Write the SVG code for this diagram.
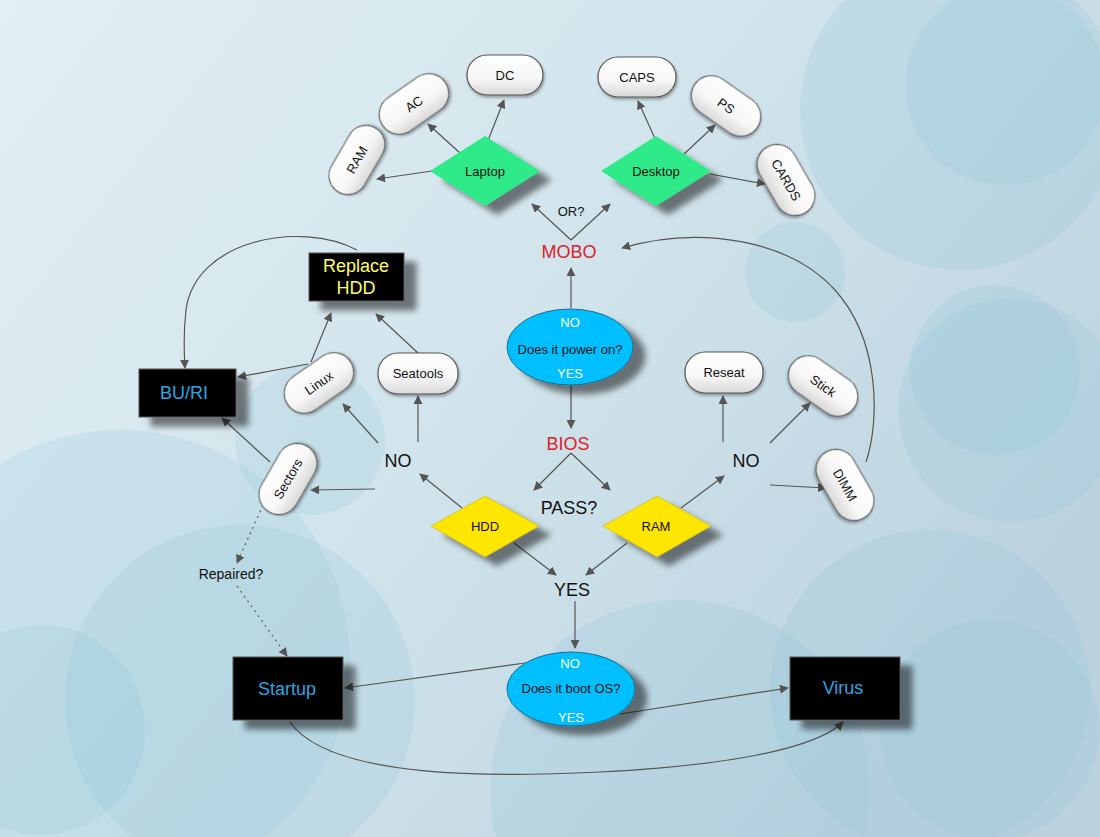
<svg xmlns="http://www.w3.org/2000/svg" width="1100" height="837" viewBox="0 0 1100 837">
<defs>
<linearGradient id="bg" x1="0" y1="0" x2="1" y2="0.6">
<stop offset="0" stop-color="#e2eff5"/>
<stop offset="0.5" stop-color="#d2e5ec"/>
<stop offset="1" stop-color="#bcd3df"/>
</linearGradient>
<linearGradient id="pill" x1="0" y1="0" x2="0" y2="1">
<stop offset="0" stop-color="#ffffff"/>
<stop offset="0.6" stop-color="#f6f6f6"/>
<stop offset="1" stop-color="#d8d8d8"/>
</linearGradient>
<filter id="sh" x="-30%" y="-30%" width="170%" height="170%">
<feGaussianBlur in="SourceAlpha" stdDeviation="3"/>
<feOffset dx="12" dy="9" result="b"/>
<feComponentTransfer><feFuncA type="linear" slope="0.5"/></feComponentTransfer>
<feMerge><feMergeNode/><feMergeNode in="SourceGraphic"/></feMerge>
</filter>
<filter id="psh" x="-30%" y="-30%" width="160%" height="160%">
<feGaussianBlur in="SourceAlpha" stdDeviation="1.5"/>
<feOffset dx="1" dy="2"/>
<feComponentTransfer><feFuncA type="linear" slope="0.35"/></feComponentTransfer>
<feMerge><feMergeNode/><feMergeNode in="SourceGraphic"/></feMerge>
</filter>
<marker id="ar" viewBox="0 0 10 10" refX="9" refY="5" markerWidth="9" markerHeight="9" markerUnits="userSpaceOnUse" orient="auto">
<path d="M0,0 L10,5 L0,10 z" fill="#555"/>
</marker>
<style>
.t{font-family:"Liberation Sans",Arial,sans-serif;text-anchor:middle;dominant-baseline:central}
.s{font-size:13px;fill:#111}
.big{font-size:18px;fill:#111}
.red{font-size:18px;fill:#e0202a}
.blu{font-size:18px;fill:#2ea6e0}
.yel{font-size:18px;fill:#ffff66}
.wh{font-size:13px;fill:#ffffff}
.pill{fill:url(#pill);stroke:#555;stroke-width:1.2;filter:url(#psh)}
.dg{fill:#2eea88;filter:url(#sh)}
.dy{fill:#ffe600;stroke:#b8a800;stroke-width:0.5;filter:url(#sh)}
.bx{fill:#000;stroke:#555;stroke-width:1;filter:url(#sh)}
.el{fill:#00bfff;stroke:#1a6b8c;stroke-width:1;filter:url(#sh)}
.c{fill:none;stroke:#555;stroke-width:1.2;marker-end:url(#ar)}
.d{fill:none;stroke:#666;stroke-width:1.3;stroke-dasharray:2 4;marker-end:url(#ar)}
.bc{fill:#8cc3d8;fill-opacity:0.2}
</style>
</defs>
<rect width="1100" height="837" fill="url(#bg)"/>
<g id="background">
<circle class="bc" cx="960" cy="110" r="160"/>
<circle class="bc" cx="1005" cy="85" r="100"/>
<circle class="bc" cx="795" cy="272" r="50"/>
<circle class="bc" cx="1010" cy="410" r="112"/>
<circle class="bc" cx="995" cy="370" r="85"/>
<circle class="bc" cx="120" cy="660" r="230"/>
<circle class="bc" cx="240" cy="700" r="175"/>
<circle class="bc" cx="40" cy="730" r="105"/>
<circle class="bc" cx="310" cy="440" r="75"/>
<circle class="bc" cx="680" cy="790" r="190"/>
<circle class="bc" cx="930" cy="690" r="160"/>
<circle class="bc" cx="990" cy="730" r="110"/>
</g>
<g id="connectors">
<line class="c" x1="432" y1="171" x2="377" y2="179"/>
<line class="c" x1="460" y1="153" x2="428" y2="124"/>
<line class="c" x1="487" y1="143" x2="504" y2="100"/>
<line class="c" x1="657" y1="143" x2="638" y2="101"/>
<line class="c" x1="682" y1="156" x2="715" y2="125"/>
<line class="c" x1="710" y1="174" x2="765" y2="184"/>
<line class="c" x1="571" y1="240" x2="532" y2="204"/>
<line class="c" x1="571" y1="240" x2="610" y2="204"/>
<line class="c" x1="571" y1="308" x2="571" y2="268"/>
<line class="c" x1="571" y1="384" x2="571" y2="428"/>
<line class="c" x1="571" y1="453" x2="534" y2="490"/>
<line class="c" x1="571" y1="453" x2="610" y2="490"/>
<line class="c" x1="462" y1="508" x2="420" y2="474"/>
<line class="c" x1="514" y1="543" x2="556" y2="575"/>
<line class="c" x1="627" y1="543" x2="586" y2="575"/>
<line class="c" x1="681" y1="508" x2="724" y2="476"/>
<line class="c" x1="575" y1="601" x2="575" y2="648"/>
<line class="c" x1="525" y1="663" x2="345" y2="688"/>
<line class="c" x1="620" y1="714" x2="788" y2="688"/>
<path class="c" d="M290,722 C330,780 500,777 600,772 C720,766 815,750 843,722"/>
<line class="c" x1="418" y1="442" x2="418" y2="396"/>
<line class="c" x1="378" y1="443" x2="343" y2="404"/>
<line class="c" x1="375" y1="489" x2="311" y2="490"/>
<line class="c" x1="270" y1="462" x2="222" y2="418"/>
<line class="c" x1="308" y1="364" x2="238" y2="377"/>
<line class="c" x1="311" y1="362" x2="331" y2="313"/>
<line class="c" x1="418" y1="353" x2="376" y2="314"/>
<path class="c" d="M357,250 C300,220 195,240 186,310 C183,335 184,352 185,368"/>
<line class="d" x1="263" y1="505" x2="237" y2="563"/>
<line class="d" x1="237" y1="586" x2="287" y2="656"/>
<line class="c" x1="723" y1="442" x2="723" y2="396"/>
<line class="c" x1="770" y1="443" x2="810" y2="403"/>
<line class="c" x1="770" y1="485" x2="826" y2="488"/>
<path class="c" d="M866,462 C880,420 880,340 835,290 C790,240 700,225 622,248"/>
</g>
<g id="laptop"><polygon class="dg" points="485,136 540,171 485,206 430,171"/><text class="t s" x="485" y="171">Laptop</text></g>
<g id="desktop"><polygon class="dg" points="656,136 711,171 656,206 601,171"/><text class="t s" x="656" y="171">Desktop</text></g>
<g id="ram-top" transform="translate(357,160) rotate(-60)"><rect class="pill" x="-37" y="-19" width="74" height="38" rx="19"/><text class="t s" x="0" y="0">RAM</text></g>
<g id="ac" transform="translate(414,104) rotate(-35)"><rect class="pill" x="-38" y="-20" width="76" height="40" rx="20"/><text class="t s" x="0" y="0">AC</text></g>
<g id="dc" transform="translate(505,75)"><rect class="pill" x="-38" y="-20" width="76" height="40" rx="20"/><text class="t s" x="0" y="0">DC</text></g>
<g id="caps" transform="translate(637,77)"><rect class="pill" x="-39" y="-20" width="78" height="40" rx="20"/><text class="t s" x="0" y="0">CAPS</text></g>
<g id="ps" transform="translate(726,106) rotate(35)"><rect class="pill" x="-38" y="-20" width="76" height="40" rx="20"/><text class="t s" x="0" y="0">PS</text></g>
<g id="cards" transform="translate(786,180) rotate(60)"><rect class="pill" x="-38" y="-20" width="76" height="40" rx="20"/><text class="t s" x="0" y="0">CARDS</text></g>
<g id="or"><text class="t s" x="571" y="211">OR?</text></g>
<g id="mobo"><text class="t red" x="569" y="252">MOBO</text></g>
<g id="power"><ellipse class="el" cx="570" cy="347" rx="63" ry="38"/><text class="t wh" x="570" y="322">NO</text><text class="t s" x="570" y="349">Does it power on?</text><text class="t wh" x="570" y="373">YES</text></g>
<g id="bios"><text class="t red" x="568" y="444">BIOS</text></g>
<g id="pass"><text class="t big" x="569" y="508">PASS?</text></g>
<g id="hdd"><polygon class="dy" points="485,496 539,526 485,557 431,526"/><text class="t s" x="485" y="526">HDD</text></g>
<g id="ram-diamond"><polygon class="dy" points="657,496 711,526 657,557 603,526"/><text class="t s" x="656" y="526">RAM</text></g>
<g id="yes"><text class="t big" x="572" y="590">YES</text></g>
<g id="boot"><ellipse class="el" cx="571" cy="689" rx="64" ry="37"/><text class="t wh" x="570" y="663">NO</text><text class="t s" x="571" y="688">Does it boot OS?</text><text class="t wh" x="571" y="717">YES</text></g>
<g id="startup"><rect class="bx" x="233" y="657" width="110" height="63"/><text class="t blu" x="287" y="689">Startup</text></g>
<g id="virus"><rect class="bx" x="790" y="657" width="110" height="63"/><text class="t blu" x="843" y="688">Virus</text></g>
<g id="buri"><rect class="bx" x="139" y="369" width="97" height="48"/><text class="t blu" x="184" y="393">BU/RI</text></g>
<g id="replace-hdd"><rect class="bx" x="309" y="253" width="95" height="48"/><text class="t yel" x="356" y="266">Replace</text><text class="t yel" x="356" y="288">HDD</text></g>
<g id="linux" transform="translate(319,383) rotate(-35)"><rect class="pill" x="-38" y="-20" width="76" height="40" rx="20"/><text class="t s" x="0" y="0">Linux</text></g>
<g id="seatools" transform="translate(418,373)"><rect class="pill" x="-40" y="-20" width="80" height="41" rx="20"/><text class="t s" x="0" y="0">Seatools</text></g>
<g id="sectors" transform="translate(288,479) rotate(-60)"><rect class="pill" x="-38" y="-20" width="76" height="40" rx="20"/><text class="t s" x="0" y="0">Sectors</text></g>
<g id="no-left"><text class="t big" x="398" y="461">NO</text></g>
<g id="repaired"><text class="t" style="font-size:14px;fill:#111" x="231" y="574">Repaired?</text></g>
<g id="no-right"><text class="t big" x="746" y="461">NO</text></g>
<g id="reseat" transform="translate(724,372)"><rect class="pill" x="-39" y="-20" width="78" height="41" rx="20"/><text class="t s" x="0" y="0">Reseat</text></g>
<g id="stick" transform="translate(823,386) rotate(35)"><rect class="pill" x="-38" y="-20" width="76" height="40" rx="20"/><text class="t s" x="0" y="0">Stick</text></g>
<g id="dimm" transform="translate(845,485) rotate(60)"><rect class="pill" x="-38" y="-20" width="76" height="40" rx="20"/><text class="t s" x="0" y="0">DIMM</text></g>
</svg>
